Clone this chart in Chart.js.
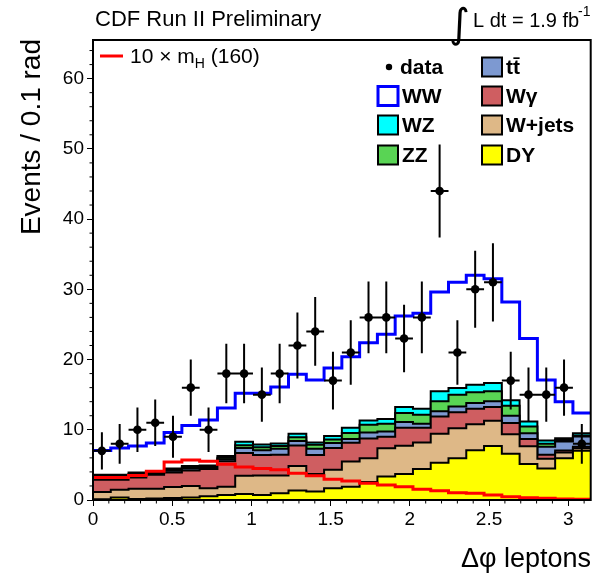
<!DOCTYPE html>
<html><head><meta charset="utf-8">
<script src="https://cdn.jsdelivr.net/npm/chart.js@4/dist/chart.umd.min.js"></script>
<style>html,body{margin:0;padding:0;background:#fff;}canvas{display:block}</style>
</head><body>
<canvas id="c" width="595" height="576"></canvas>
<script>
// ---- data (28 bins over 0..pi) ----
const binCount = 28;
const xMax = Math.PI;
const xTickStep = 0.5;
const yMax = 65.5;
const yTickStep = 10;

const dataCounts = [7,8,10,11,9,16,10,18,18,15,18,22,24,17,21,26,26,23,26,44,21,30,31,17,15,15,16,8];
const dataErrors = [2.65,2.83,3.16,3.32,3.0,4.0,3.16,4.24,4.24,3.87,4.24,4.69,4.9,4.12,4.58,5.1,5.1,4.8,5.1,6.63,4.58,5.48,5.57,4.12,3.87,3.87,4.0,2.83];

const dy     = [0.1,0.35,0.15,0.2,0.3,0.35,0.55,0.7,0.85,0.71,0.95,1.35,1.2,1.67,1.9,2.55,3.33,3.7,4.4,5.3,5.95,7.1,7.7,6.6,5.14,4.5,5.95,7.0];
const wjets  = [1.05,1.1,1.45,1.4,1.55,1.65,1.12,1.2,2.6,2.79,2.55,3.5,2.5,2.63,3.58,3.4,4.05,4.01,3.79,4.15,4.25,3.7,3.6,2.75,2.51,1.36,0.81,0.38];
const wgamma = [1.75,1.45,1.6,2.0,2.05,2.2,2.73,3.6,3.25,2.9,2.95,2.9,2.7,3.1,2.67,2.8,1.62,2.59,2.11,2.45,2.3,2.2,1.95,1.6,1.02,0.57,0.29,0.22];
const ttbar  = [0.3,0.3,0.3,0.2,0.25,0.3,0.2,0.3,0.7,0.7,0.85,0.65,0.9,0.7,0.52,0.87,0.76,0.8,0.56,0.72,0.83,0.8,0.8,1.05,0.85,1.17,1.28,1.45];
const zz     = [0.2,0.2,0.2,0.15,0.2,0.2,0.15,0.2,0.4,0.4,0.4,0.55,0.56,0.5,0.88,1.09,1.1,1.28,1.28,1.43,1.67,1.53,1.43,1.43,0.96,0.4,0.22,0.15];
const wz     = [0.2,0.2,0.2,0.15,0.15,0.15,0.15,0.25,0.5,0.4,0.35,0.48,0.33,0.5,0.75,0.62,0.66,0.86,0.86,1.43,0.95,1.07,1.19,0.76,0.71,0.48,0.26,0.32];
const ww     = [3.45,3.8,3.8,4.0,5.1,5.75,6.5,6.85,6.9,7.3,8.05,8.47,8.91,9.7,10.1,11.07,12.08,12.96,13.6,14.12,15.05,15.6,14.83,14.01,11.81,8.62,5.19,2.88];
const signal = [3.2,3.2,3.5,4.1,5.4,5.7,5.5,5.1,4.7,4.5,4.3,3.8,3.45,2.95,2.7,2.38,2.14,1.9,1.52,1.33,1.05,0.95,0.71,0.48,0.33,0.24,0.14,0.1];

// ---- build tables for the library ----
const binWidth = xMax / binCount;
function stepPoints(vals){
  const pts = [];
  vals.forEach((v,k)=>{ pts.push({x:k*binWidth,y:v}); pts.push({x:(k+1)*binWidth,y:v}); });
  return pts;
}
const stackOrder = [
  {name:'DY', vals:dy, color:'#ffff00'},
  {name:'W+jets', vals:wjets, color:'#deb887'},
  {name:'Wγ', vals:wgamma, color:'#cf5e61'},
  {name:'tt̄', vals:ttbar, color:'#7d99d1'},
  {name:'ZZ', vals:zz, color:'#59d454'},
  {name:'WZ', vals:wz, color:'#00ffff'},
  {name:'WW', vals:ww, color:'#ffffff', border:'#0000ff', bw:3}
];
let running = new Array(binCount).fill(0);
const stackSets = stackOrder.map((c,i)=>{
  running = running.map((r,k)=>r + c.vals[k]);
  return {
    label:c.name, data:stepPoints(running.slice()), borderColor:c.border||'#000000',
    borderWidth:c.bw||2, backgroundColor:c.color, fill:'origin', pointRadius:0,
    tension:0, borderJoinStyle:'miter', order:2+i
  };
});
const datasets = [
  {label:'data', type:'scatter', data:dataCounts.map((v,k)=>({x:(k+0.5)*binWidth,y:v})),
   pointRadius:4.3, pointBackgroundColor:'#000', pointBorderColor:'#000', pointBorderWidth:0, order:0, showLine:false},
  {label:'signal', data:stepPoints(signal), borderColor:'#ff0000', borderWidth:3, fill:false,
   pointRadius:0, tension:0, borderJoinStyle:'miter', order:1},
  ...stackSets
];

const FONT = "'Liberation Sans', Arial, Helvetica, sans-serif";

const decor = {
  id:'decor',
  afterDatasetsDraw(chart){
    const {ctx, chartArea:a, scales:{x,y}} = chart;
    ctx.save();
    // error bars
    ctx.strokeStyle='#000'; ctx.lineWidth=2; ctx.beginPath();
    dataCounts.forEach((v,k)=>{
      const xc = x.getPixelForValue((k+0.5)*binWidth);
      const x0 = x.getPixelForValue(k*binWidth), x1 = x.getPixelForValue((k+1)*binWidth);
      const yv = y.getPixelForValue(v);
      ctx.moveTo(xc, y.getPixelForValue(v-dataErrors[k])); ctx.lineTo(xc, y.getPixelForValue(v+dataErrors[k]));
      ctx.moveTo(x0, yv); ctx.lineTo(x1, yv);
    });
    ctx.stroke();
    // frame
    ctx.lineWidth=2; ctx.strokeRect(a.left, a.top, a.right-a.left, a.bottom-a.top);
    // minor ticks
    ctx.lineWidth=1; ctx.beginPath();
    for(let i=1;i*0.1<=xMax+1e-9;i++){ if(i%5===0) continue; const px=x.getPixelForValue(i*0.1); ctx.moveTo(px,a.bottom); ctx.lineTo(px,a.bottom+3.5); }
    for(let i=1;i*2<=yMax;i++){ if(i%5===0) continue; const py=y.getPixelForValue(i*2); ctx.moveTo(a.left,py); ctx.lineTo(a.left-3.5,py); }
    ctx.stroke();
    ctx.restore();
  },
  afterDraw(chart){
    const ctx = chart.ctx;
    ctx.save();
    ctx.fillStyle='#000';
    ctx.textBaseline='alphabetic';
    ctx.font = `22px ${FONT}`; ctx.textAlign='left';
    ctx.fillText('CDF Run II Preliminary', 95, 26);
    // luminosity
    ctx.font = `40px 'DejaVu Sans', ${FONT}`; ctx.fillText('∫', 449, 37);
    ctx.font = `20px ${FONT}`; ctx.fillText('L dt = 1.9 fb', 473, 27);
    ctx.font = `14px ${FONT}`; ctx.fillText('-1', 578, 16);
    // axis titles
    ctx.font = `27px ${FONT}`; ctx.textAlign='right';
    ctx.fillText('Δφ leptons', 591, 567);
    ctx.font = `28px ${FONT}`;
    ctx.save(); ctx.translate(40, 39); ctx.rotate(-Math.PI/2);
    ctx.fillText('Events / 0.1 rad', 0, 0); ctx.restore();
    // signal legend
    ctx.strokeStyle='#ff0000'; ctx.lineWidth=3; ctx.beginPath(); ctx.moveTo(100,56); ctx.lineTo(123,56); ctx.stroke();
    ctx.textAlign='left'; ctx.font=`21px ${FONT}`;
    let xx=130; const t1='10 × m'; ctx.fillText(t1, xx, 63); xx+=ctx.measureText(t1).width;
    ctx.font=`14px ${FONT}`; ctx.fillText('H', xx, 68); xx+=ctx.measureText('H').width;
    ctx.font=`21px ${FONT}`; ctx.fillText(' (160)', xx, 63);
    // main legend
    ctx.font=`bold 21px ${FONT}`; ctx.textBaseline='middle';
    const rows=[67,96,125,155];
    ctx.beginPath(); ctx.arc(389, rows[0], 3.2, 0, Math.PI*2); ctx.fill();
    ctx.fillText('data', 400, rows[0]+1);
    const col1=[null, stackOrder[6], stackOrder[5], stackOrder[4]];
    const col2=[stackOrder[3], stackOrder[2], stackOrder[1], stackOrder[0]];
    function box(x0, r, c){
      ctx.fillStyle=c.color; ctx.fillRect(x0, r-9.5, 20, 19);
      ctx.strokeStyle=c.border||'#000'; ctx.lineWidth=c.border?3:2; ctx.strokeRect(x0, r-9.5, 20, 19);
      ctx.fillStyle='#000';
    }
    col1.forEach((c,i)=>{ if(!c) return; box(378, rows[i], c); ctx.fillText(c.name, 402, rows[i]+1); });
    col2.forEach((c,i)=>{ box(482, rows[i], c); ctx.fillText(c.name, 506, rows[i]+1); });
    ctx.restore();
  }
};

Chart.defaults.font.family = FONT;
Chart.defaults.color = '#000';
new Chart(document.getElementById('c'), {
  type:'line',
  data:{datasets},
  options:{
    responsive:false, animation:false, devicePixelRatio:1,
    layout:{padding:{top:40,right:1,bottom:0,left:0}},
    plugins:{legend:{display:false}, tooltip:{enabled:false}},
    scales:{
      x:{type:'linear', min:0, max:xMax,
         ticks:{stepSize:xTickStep, includeBounds:false, font:{size:19}, padding:2, maxRotation:0,
                callback:v=>String(Math.round(v*10)/10)},
         grid:{drawOnChartArea:false, drawTicks:true, tickLength:6, tickColor:'#000', tickWidth:1},
         border:{display:false},
         afterFit:s=>{s.height=76;}},
      y:{type:'linear', min:0, max:yMax,
         ticks:{stepSize:yTickStep, includeBounds:false, font:{size:19}, padding:3,
                callback:v=>String(Math.round(v))},
         grid:{drawOnChartArea:false, drawTicks:true, tickLength:6, tickColor:'#000', tickWidth:1},
         border:{display:false},
         afterFit:s=>{s.width=93;}}
    }
  },
  plugins:[decor]
});
</script>
</body></html>
